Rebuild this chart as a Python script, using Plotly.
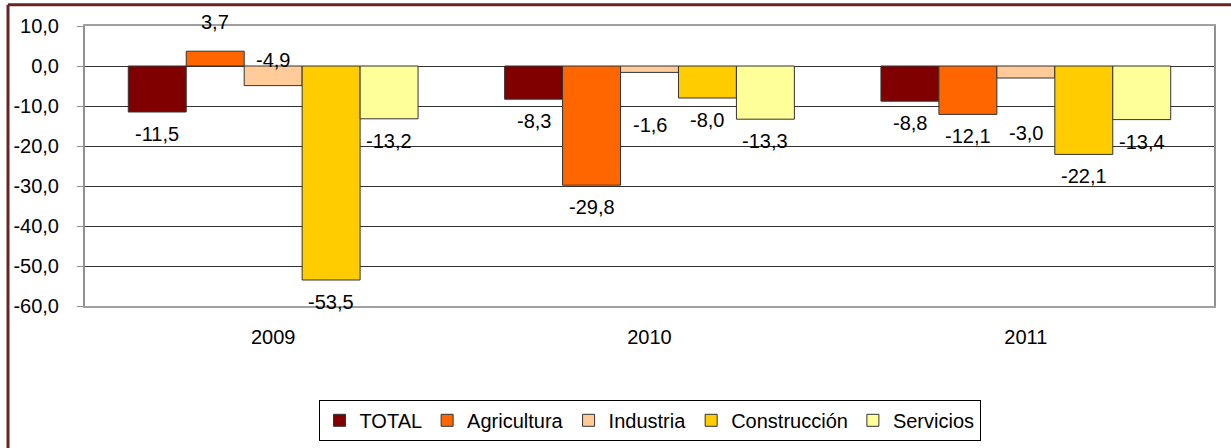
import plotly.graph_objects as go

years = ["2009", "2010", "2011"]
series_names = ["TOTAL", "Agricultura", "Industria", "Construcción", "Servicios"]
total = [-11.5, -8.3, -8.8]
agricultura = [3.7, -29.8, -12.1]
industria = [-4.9, -1.6, -3.0]
construccion = [-53.5, -8.0, -22.1]
servicios = [-13.2, -13.3, -13.4]
series_values = [total, agricultura, industria, construccion, servicios]
y_tick_values = [10, 0, -10, -20, -30, -40, -50, -60]
y_tick_labels = ["10,0", "0,0", "-10,0", "-20,0", "-30,0", "-40,0", "-50,0", "-60,0"]

colors = ["#800000", "#FF6600", "#FFCC99", "#FFCC00", "#FFFF99"]
FONT = "Liberation Sans, Arial, sans-serif"
FS = 20
BARGAP = 0.23
# label nudges (pixels) for labels Excel moved away from their default spot
label_nudge = {("Industria", 0): 48, ("Industria", 1): -31, ("Industria", 2): -33}

fig = go.Figure()
n = len(series_names)
group_w = 1 - BARGAP
annotations = []
for i, (name, vals, col) in enumerate(zip(series_names, series_values, colors)):
    fig.add_trace(go.Bar(
        x=years, y=vals, name=name,
        marker=dict(color=col, line=dict(color="#333333", width=1)),
    ))
    offset = -group_w / 2 + (i + 0.5) * group_w / n
    for j, v in enumerate(vals):
        shift = 29 if v >= 0 else -22
        shift += label_nudge.get((name, j), 0)
        annotations.append(dict(
            x=j + offset, y=v, xref="x", yref="y",
            text=f"{v:.1f}".replace(".", ","),
            showarrow=False, yshift=shift, yanchor="middle",
            font=dict(family=FONT, size=FS, color="#000000"),
        ))

frame_col = "#6B2222"
shapes = [
    dict(type="line", xref="paper", yref="paper", x0=-0.0682, x1=1.02, y0=1.076, y1=1.076,
         line=dict(color=frame_col, width=3)),
    dict(type="line", xref="paper", yref="paper", x0=-0.0682, x1=-0.0682, y0=1.076, y1=-0.52,
         line=dict(color=frame_col, width=3)),
]

fig.update_layout(
    width=1231, height=448,
    margin=dict(l=85, r=17, t=26, b=142, autoexpand=False),
    barmode="group", bargap=BARGAP, bargroupgap=0,
    plot_bgcolor="white", paper_bgcolor="white",
    font=dict(family=FONT, size=FS, color="#000000"),
    annotations=annotations, shapes=shapes,
    showlegend=True,
    legend=dict(
        orientation="h", x=0.5, xanchor="center", y=-0.335, yanchor="top",
        bordercolor="#000000", borderwidth=1, bgcolor="white",
        font=dict(family=FONT, size=FS, color="#000000"),
        itemwidth=30, tracegroupgap=0,
    ),
    xaxis=dict(
        type="category", range=[-0.5, 2.5],
        showline=True, linecolor="#A0A0A0", linewidth=2, mirror=True,
        ticks="", ticklabelstandoff=12,
        tickfont=dict(family=FONT, size=FS, color="#000000"),
        showgrid=False,
    ),
    yaxis=dict(
        range=[-60, 10], tickmode="array", tickvals=y_tick_values, ticktext=y_tick_labels,
        showgrid=True, gridcolor="#333333", gridwidth=1,
        zeroline=True, zerolinecolor="#333333", zerolinewidth=1,
        showline=True, linecolor="#909090", linewidth=2, mirror=True,
        ticks="outside", ticklen=6, tickcolor="#909090", tickwidth=1,
        ticklabelstandoff=14,
        tickfont=dict(family=FONT, size=FS, color="#000000"),
    ),
)

fig.write_html("out.html", config={"displayModeBar": False},
               post_script="document.body.style.margin='0px';")
